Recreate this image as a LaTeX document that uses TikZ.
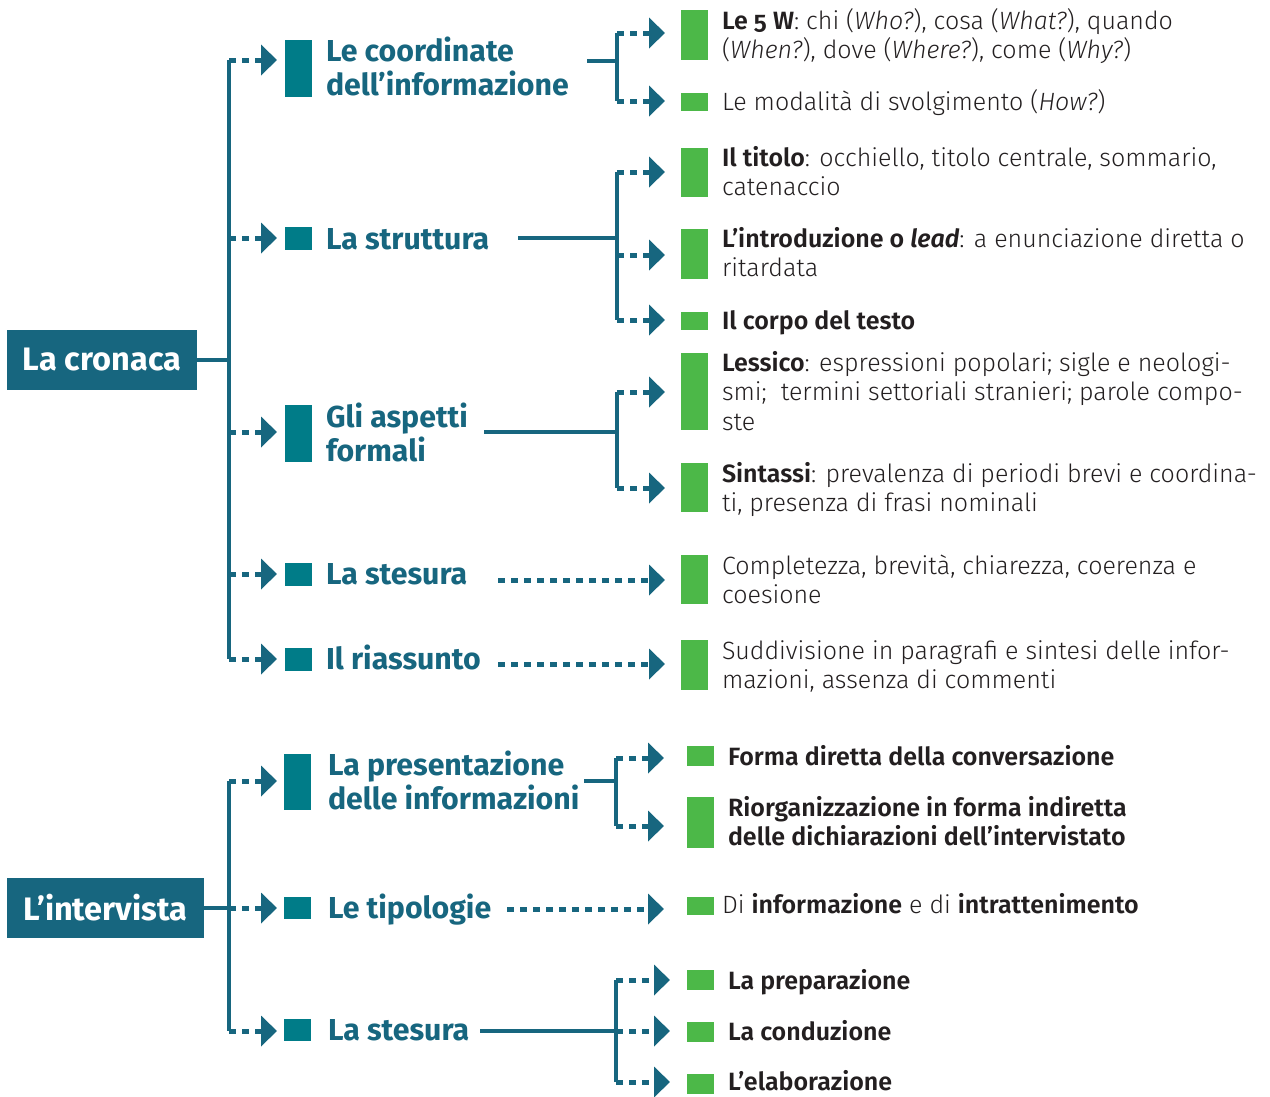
\documentclass[tikz,border=0pt]{standalone}
\usepackage{fontspec}
\setmainfont{Fira Sans}
\newfontfamily\bodyfam{Fira Sans Light}[BoldFont={Fira Sans SemiBold}, ItalicFont={Fira Sans Light Italic}, BoldItalicFont={Fira Sans SemiBold Italic}]
\usetikzlibrary{arrows.meta}
\definecolor{lin}{HTML}{17667F}
\definecolor{sqc}{HTML}{007C88}
\definecolor{grn}{HTML}{4CB848}
\definecolor{ink}{HTML}{231F20}
\newcommand\bodyfont{\bodyfam\fontsize{25pt}{29.5pt}\selectfont}
\newcommand\headfont{\fontsize{30.3pt}{34.5pt}\selectfont\bfseries}
\newcommand\bst{\rule{0pt}{22pt}}
\newcommand\hst{\rule{0pt}{27pt}}
\tikzset{
  conn/.style={draw=lin, line width=3.5pt},
  dconn/.style={draw=lin, line width=5pt, dash pattern=on 7pt off 6pt,
    -{Triangle[length=16pt,width=30pt]}},
  mainbox/.style={fill=lin, text=white, inner sep=0pt, outer sep=0pt,
    font=\fontsize{32.5pt}{36pt}\selectfont\bfseries, minimum height=60pt},
  sqbar/.style={fill=sqc, inner sep=0pt, outer sep=0pt, minimum width=27pt},
  gbar/.style={fill=grn, inner sep=0pt, outer sep=0pt, minimum width=27pt},
  htext/.style={anchor=north west, inner sep=0pt, outer sep=0pt, align=left,
    font=\headfont, text=lin, yshift=27pt},
  btext/.style={anchor=north west, inner sep=0pt, outer sep=0pt, align=left,
    font=\bodyfont, text=ink, yshift=22pt}
}
\begin{document}
\begin{tikzpicture}[x=1pt,y=-1pt]
\useasboundingbox[fill=white] (0,0) rectangle (1270,1096);

% ===== La cronaca =====
\node[mainbox, minimum width=190pt] (cr) at (102,360) {La cronaca};
\coordinate (k1) at (229,60);
\coordinate (k2) at (229,238);
\coordinate (k3) at (229,432);
\coordinate (k4) at (229,574);
\coordinate (k5) at (229,659);
\draw[conn] (cr.east) -- (cr.east -| k1);
\draw[conn] (k1) -- (k5);

\node[sqbar, minimum height=57pt] (s1) at (298.5,68.5) {};
\node[sqbar, minimum height=23pt] (s2) at (298.5,238.5) {};
\node[sqbar, minimum height=57pt] (s3) at (298.5,433.5) {};
\node[sqbar, minimum height=23pt] (s4) at (298.5,574.5) {};
\node[sqbar, minimum height=23pt] (s5) at (298.5,659) {};

\foreach \k/\s in {k1/s1,k2/s2,k3/s3,k4/s4,k5/s5}
  \draw[dconn, shorten >=8pt] (\k) -- (\k -| \s.west);

\node[htext] (l1) at (326,61) {\hst Le coordinate\\dell’informazione};
\node[htext] (l2) at (326,249) {\hst La struttura};
\node[htext] (l3) at (326,427) {\hst Gli aspetti\\formali};
\node[htext] (l4) at (326,584) {\hst La stesura};
\node[htext] (l5) at (326,669) {\hst Il riassunto};

% green bars
\node[gbar, minimum height=50pt] (g1) at (694.5,35) {};
\node[gbar, minimum height=18pt] (g2) at (694.5,101.5) {};
\node[gbar, minimum height=49pt] (g3) at (694.5,172.5) {};
\node[gbar, minimum height=50pt] (g4) at (694.5,254) {};
\node[gbar, minimum height=18pt] (g5) at (694.5,321) {};
\node[gbar, minimum height=77pt] (g6) at (694.5,391.5) {};
\node[gbar, minimum height=49pt] (g7) at (694.5,487.5) {};
\node[gbar, minimum height=49pt] (g8) at (694.5,579.5) {};
\node[gbar, minimum height=50pt] (g9) at (694.5,665) {};

% coordinate branch
\coordinate (h1) at (587,61);
\coordinate (b1a) at (617,33);
\coordinate (b1b) at (617,101);
\draw[conn] (h1) -- (h1 -| b1a);
\draw[conn] (b1a) -- (b1b);
\draw[dconn, shorten >=16pt] (b1a) -- (b1a -| g1.west);
\draw[dconn, shorten >=16pt] (b1b) -- (b1b -| g2.west);

% struttura branch
\coordinate (h2) at (518,238);
\coordinate (b2a) at (617,172);
\coordinate (b2b) at (617,255);
\coordinate (b2c) at (617,320);
\draw[conn] (h2) -- (h2 -| b2a);
\draw[conn] (b2a) -- (b2c);
\draw[dconn, shorten >=16pt] (b2a) -- (b2a -| g3.west);
\draw[dconn, shorten >=16pt] (b2b) -- (b2b -| g4.west);
\draw[dconn, shorten >=16pt] (b2c) -- (b2c -| g5.west);

% aspetti branch
\coordinate (h3) at (484,432);
\coordinate (b3a) at (617,392);
\coordinate (b3b) at (617,488);
\draw[conn] (h3) -- (h3 -| b3a);
\draw[conn] (b3a) -- (b3b);
\draw[dconn, shorten >=16pt] (b3a) -- (b3a -| g6.west);
\draw[dconn, shorten >=16pt] (b3b) -- (b3b -| g7.west);

% stesura / riassunto
\coordinate (h4) at (498,580);
\coordinate (h5) at (498,664);
\draw[dconn, shorten >=16pt] (h4) -- (h4 -| g8.west);
\draw[dconn, shorten >=16pt] (h5) -- (h5 -| g9.west);

% texts cronaca
\node[btext] (t1) at (722,29) {\bst\textbf{Le {\addfontfeatures{Numbers=OldStyle}5} W}: chi (\textit{Who?}), cosa (\textit{What?}), quando\\(\textit{When?}), dove (\textit{Where?}), come (\textit{Why?})};
\node[btext] (t2) at (722,110) {\bst Le modalità di svolgimento (\textit{How?})};
\node[btext] (t3) at (722,166) {\bst\textbf{Il titolo}: occhiello, titolo centrale, sommario,\\catenaccio};
\node[btext] (t4) at (722,247) {\bst\textbf{L’introduzione o \textit{lead}}: a enunciazione diretta o\\ritardata};
\node[btext] (t5) at (722,329) {\bst\textbf{Il corpo del testo}};
\node[btext] (t6) at (722,371) {\bst\textbf{Lessico}: espressioni popolari; sigle e neologi-\\smi;\ \ termini settoriali stranieri; parole compo-\\ste};
\node[btext] (t7) at (722,482) {\bst\textbf{Sintassi}: prevalenza di periodi brevi e coordina-\\ti, presenza di frasi nominali};
\node[btext] (t8) at (722,574) {\bst Completezza, brevità, chiarezza, coerenza e\\coesione};
\node[btext] (t9) at (722,659) {\bst Suddivisione in paragrafi e sintesi delle infor-\\mazioni, assenza di commenti};

% ===== L'intervista =====
\node[mainbox, minimum width=197pt] (iv) at (105.5,908) {L’intervista};
\coordinate (m1) at (229,781);
\coordinate (m2) at (229,908);
\coordinate (m3) at (229,1031);
\draw[conn] (iv.east) -- (iv.east -| m2);
\draw[conn] (m1) -- (m3);

\node[sqbar, minimum height=56pt] (s6) at (297.5,782) {};
\node[sqbar, minimum height=22pt] (s7) at (297.5,908) {};
\node[sqbar, minimum height=22pt] (s8) at (297.5,1030) {};
\foreach \k/\s in {m1/s6,m2/s7,m3/s8}
  \draw[dconn, shorten >=7pt] (\k) -- (\k -| \s.west);

\node[htext] (l6) at (328,775) {\hst La presentazione\\delle informazioni};
\node[htext] (l7) at (328,918) {\hst Le tipologie};
\node[htext] (l8) at (328,1040) {\hst La stesura};

\node[gbar, minimum height=20pt] (g10) at (700.5,756) {};
\node[gbar, minimum height=51pt] (g11) at (700.5,822.5) {};
\node[gbar, minimum height=18pt] (g12) at (700.5,906) {};
\node[gbar, minimum height=20pt] (g13) at (700.5,980) {};
\node[gbar, minimum height=20pt] (g14) at (700.5,1032) {};
\node[gbar, minimum height=20pt] (g15) at (700.5,1084) {};

\coordinate (h6) at (584,781);
\coordinate (b6a) at (616,758);
\coordinate (b6b) at (616,826);
\draw[conn] (h6) -- (h6 -| b6a);
\draw[conn] (b6a) -- (b6b);
\draw[dconn, shorten >=23pt] (b6a) -- (b6a -| g10.west);
\draw[dconn, shorten >=23pt] (b6b) -- (b6b -| g11.west);

\coordinate (h7) at (507,909);
\draw[dconn, shorten >=23pt] (h7) -- (h7 -| g12.west);

\coordinate (h8) at (480,1031);
\coordinate (b8a) at (616,980);
\coordinate (b8b) at (616,1031);
\coordinate (b8c) at (616,1082);
\draw[conn] (h8) -- (h8 -| b8a);
\draw[conn] (b8a) -- (b8c);
\draw[dconn, shorten >=17pt] (b8a) -- (b8a -| g13.west);
\draw[dconn, shorten >=17pt] (b8b) -- (b8b -| g14.west);
\draw[dconn, shorten >=17pt] (b8c) -- (b8c -| g15.west);

\node[btext] (t10) at (728,765) {\bst\textbf{Forma diretta della conversazione}};
\node[btext] (t11) at (728,816) {\bst\textbf{Riorganizzazione in forma indiretta}\\\textbf{delle dichiarazioni dell’intervistato}};
\node[btext] (t12) at (722,913) {\bst Di \textbf{informazione} e di \textbf{intrattenimento}};
\node[btext] (t13) at (728,989) {\bst\textbf{La preparazione}};
\node[btext] (t14) at (728,1040) {\bst\textbf{La conduzione}};
\node[btext] (t15) at (728,1090.5) {\bst\textbf{L’elaborazione}};
\end{tikzpicture}
\end{document}
